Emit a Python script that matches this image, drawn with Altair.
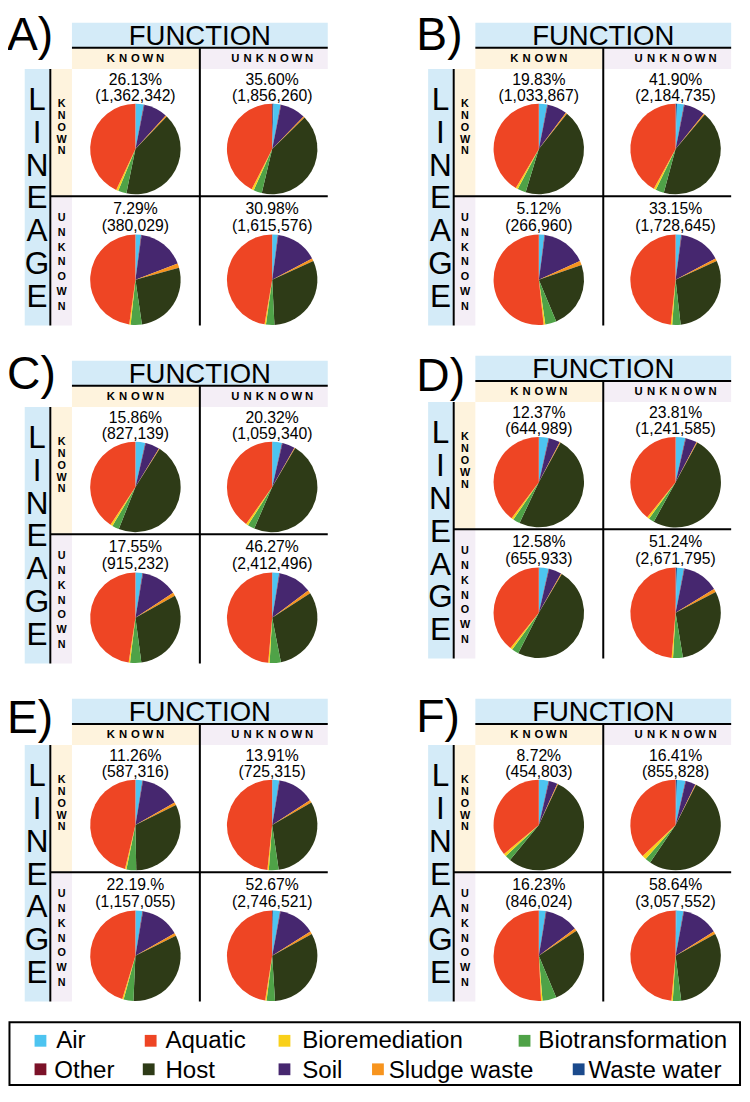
import math
import altair as alt
import pandas as pd

# ---------------- data ----------------
CATEGORIES = ["Waste water", "Air", "Other", "Soil", "Sludge waste", "Host",
              "Biotransformation", "Bioremediation", "Aquatic"]
COLORS = ["#1b4a8c", "#4dc4f0", "#7b1128", "#46276f", "#f7941e", "#2e3b17",
          "#4fa247", "#f9d01a", "#ee4524"]
LEGEND_ROW1 = ["Air", "Aquatic", "Bioremediation", "Biotransformation"]
LEGEND_ROW2 = ["Other", "Host", "Soil", "Sludge waste", "Waste water"]

PANEL_LABELS = ["A)", "B)", "C)", "D)", "E)", "F)"]
HEADER_TOP = "FUNCTION"
HEADER_SIDE = "LINEAGE"
SUB_LABELS = ["KNOWN", "UNKNOWN"]

# quadrant order: known/known, known/unknown, unknown/known, unknown/unknown
PCT_A = ["26.13%", "35.60%", "7.29%", "30.98%"]
PCT_B = ["19.83%", "41.90%", "5.12%", "33.15%"]
PCT_C = ["15.86%", "20.32%", "17.55%", "46.27%"]
PCT_D = ["12.37%", "23.81%", "12.58%", "51.24%"]
PCT_E = ["11.26%", "13.91%", "22.19.%", "52.67%"]
PCT_F = ["8.72%", "16.41%", "16.23%", "58.64%"]

COUNT_A = ["(1,362,342)", "(1,856,260)", "(380,029)", "(1,615,576)"]
COUNT_B = ["(1,033,867)", "(2,184,735)", "(266,960)", "(1,728,645)"]
COUNT_C = ["(827,139)", "(1,059,340)", "(915,232)", "(2,412,496)"]
COUNT_D = ["(644,989)", "(1,241,585)", "(655,933)", "(2,671,795)"]
COUNT_E = ["(587,316)", "(725,315)", "(1,157,055)", "(2,746,521)"]
COUNT_F = ["(454,803)", "(855,828)", "(846,024)", "(3,057,552)"]

# shares (%) in CATEGORIES order
PIES_A = [[0, 3, 0.2, 8.5, 0.5, 41, 3, 0.8, 43],
          [0.5, 2.5, 0.2, 9, 0.5, 41, 3, 0.8, 42.5],
          [0, 2, 0.2, 17, 1.5, 27, 4, 0.5, 47.8],
          [0, 2, 0.2, 15, 1, 31, 3, 0.5, 47.3]]
PIES_B = [[0, 3, 0.2, 7, 0.5, 44, 3, 0.8, 41.5],
          [0.5, 2.5, 0.2, 7.5, 0.5, 43, 3, 0.8, 42],
          [0, 2, 0.2, 16, 1.5, 24, 4, 0.6, 51.7],
          [0, 2, 0.2, 15, 1, 30, 3, 0.5, 48.3]]
PIES_C = [[0, 3.5, 0.2, 5, 0.3, 47, 2.5, 0.8, 40.7],
          [0, 3.5, 0.2, 4.5, 0.3, 48, 2.5, 0.8, 40.2],
          [0, 2.5, 0.2, 13, 1.2, 31, 4, 0.5, 47.6],
          [0, 2.5, 0.2, 12, 1.2, 31, 4, 0.5, 48.6]]
PIES_D = [[0, 3.5, 0.2, 4, 0.3, 49, 2.5, 0.8, 39.7],
          [0, 3.5, 0.2, 4, 0.3, 50, 2, 0.8, 39.2],
          [0, 3.5, 0.2, 4.5, 0.3, 49, 2.5, 0.8, 39.2],
          [0.5, 2.5, 0.2, 13, 1.2, 30, 3.5, 0.5, 48.6]]
PIES_E = [[0, 2.5, 0.2, 14, 1, 32, 3.5, 0.5, 46.3],
          [0, 2.5, 0.2, 13, 1, 31, 3.5, 0.5, 48.3],
          [0, 2.5, 0.2, 14, 1, 33, 3.5, 0.5, 45.3],
          [0.3, 2.5, 0.2, 13, 1, 32, 3, 0.5, 47.5]]
PIES_F = [[0, 3.5, 0.2, 3, 0.3, 54, 2, 1, 36],
          [0.5, 3, 0.2, 3.5, 0.3, 52, 2, 1.5, 37],
          [0, 2.5, 0.2, 12, 1, 28, 5, 0.5, 50.8],
          [0.3, 2.5, 0.2, 13, 1, 31, 3, 0.5, 48.5]]

PCTS = [PCT_A, PCT_B, PCT_C, PCT_D, PCT_E, PCT_F]
COUNTS = [COUNT_A, COUNT_B, COUNT_C, COUNT_D, COUNT_E, COUNT_F]
PIES = [PIES_A, PIES_B, PIES_C, PIES_D, PIES_E, PIES_F]

# ---------------- layout ----------------
W, H = 734, 1080
SX = 733 / 745.0
SY = 1078 / 1097.0
FS = (SX + SY) / 2
FONT = "Liberation Sans"

BLUE = "#d4ebf8"
CREAM = "#fef3dd"
LAV = "#f4eef6"


def X(r):
    return (r - 3) * SX


def Y(r):
    return (r - 3) * SY


PANEL_OFFSETS = [(0, 0), (410, 0), (0, 344), (410, 339), (0, 688), (410, 688)]
LETTER_POS = [(2, 46), (418, 46), (2, 391), (418, 393), (2, 741), (418, 740)]
COL_CX = [132.5, 271.5]
ROW_PIE_CY = [146.5, 279.5]
ROW_TXT1 = [81.5, 213.0]
ROW_TXT2 = [97.5, 229.5]
PIE_R = 46.0
LIN_LH = 33.5
ROWK_LH = 12.0
ROWU_LH = 15.0

rects = {BLUE: [], CREAM: [], LAV: []}
rules = []
txt_center = []
txt_bold = []
txt_left = []
txt_lineage = []
txt_rowk = []
txt_rowu = []
pie_rows = []


def add_rect(col, x1, x2, y1, y2, dx, dy):
    rects[col].append(dict(x=X(x1 + dx), x2=X(x2 + dx), y=Y(y1 + dy), y2=Y(y2 + dy)))


for p, (dx, dy) in enumerate(PANEL_OFFSETS):
    lx, lb = LETTER_POS[p]
    txt_left.append(dict(x=X(lx), y=Y(lb), text=PANEL_LABELS[p], size=47 * FS))
    # backgrounds
    add_rect(BLUE, 68, 328, 18, 43, dx, dy)
    add_rect(CREAM, 68, 197, 44, 65, dx, dy)
    add_rect(LAV, 199, 328, 44, 65, dx, dy)
    add_rect(BLUE, 20, 45, 65, 326, dx, dy)
    add_rect(CREAM, 47, 68, 65, 194, dx, dy)
    add_rect(LAV, 47, 68, 195, 326, dx, dy)
    # lines
    rules.append(dict(x=X(68 + dx), x2=X(328 + dx), y=Y(43.5 + dy), y2=Y(43.5 + dy)))
    rules.append(dict(x=X(198 + dx), x2=X(198 + dx), y=Y(43 + dy), y2=Y(326 + dy)))
    rules.append(dict(x=X(46 + dx), x2=X(46 + dx), y=Y(65 + dy), y2=Y(326 + dy)))
    rules.append(dict(x=X(46 + dx), x2=X(328 + dx), y=Y(194.5 + dy), y2=Y(194.5 + dy)))
    # headers
    txt_center.append(dict(x=X(198 + dx), y=Y(40.5 + dy), text=HEADER_TOP, size=28 * FS))
    txt_lineage.append(dict(x=X(32.5 + dx), y=Y(95 + 11.5 + dy),
                            text="\n".join(HEADER_SIDE), size=32 * FS))
    for c, word in enumerate(SUB_LABELS):
        n = len(word)
        for i, ch in enumerate(word):
            xx = COL_CX[c] + (i - (n - 1) / 2) * 12.5
            txt_bold.append(dict(x=X(xx + dx), y=Y(58.3 + dy), text=ch, size=11.5 * FS))
    txt_rowk.append(dict(x=X(57.5 + dx), y=Y(104 + dy),
                         text="\n".join(SUB_LABELS[0]), size=11 * FS))
    txt_rowu.append(dict(x=X(57.5 + dx), y=Y(220 + dy),
                         text="\n".join(SUB_LABELS[1]), size=11 * FS))
    # pies and their labels
    for q in range(4):
        r, c = divmod(q, 2)
        cx = X(COL_CX[c] + dx)
        cy = Y(ROW_PIE_CY[r] + dy)
        txt_center.append(dict(x=cx, y=Y(ROW_TXT1[r] + dy), text=PCTS[p][q], size=16 * FS))
        txt_center.append(dict(x=cx, y=Y(ROW_TXT2[r] + dy), text=COUNTS[p][q], size=16 * FS))
        for k, cat in enumerate(CATEGORIES):
            pie_rows.append(dict(pie=f"{p}-{q}", cx=cx, cy=cy, cat=cat, ord=k,
                                 val=PIES[p][q][k]))

# legend layout
LEG_SW1 = [30, 142, 278, 522]
LEG_TX1 = [52, 163, 302, 542]
LEG_SW2 = [30, 140, 278, 373, 577]
LEG_TX2 = [50, 163, 302, 390, 593]
LEG_ROW_CY = [1054, 1083]
LEG_ROW_BASE = [1061, 1092]
swatches = []
for row, (names, sw, tx) in enumerate([(LEGEND_ROW1, LEG_SW1, LEG_TX1),
                                        (LEGEND_ROW2, LEG_SW2, LEG_TX2)]):
    for name, s, t in zip(names, sw, tx):
        cyy = LEG_ROW_CY[row]
        swatches.append(dict(cat=name, x=X(s), x2=X(s + 12), y=Y(cyy - 6), y2=Y(cyy + 6)))
        txt_left.append(dict(x=X(t), y=Y(LEG_ROW_BASE[row]), text=name, size=24.5 * FS))
legend_box = [dict(x=X(4.5), x2=X(747), y=Y(1035), y2=Y(1099))]

# ---------------- chart ----------------
def pos(f):
    return alt.X(f + ":Q", scale=None, axis=None)


def posy(f):
    return alt.Y(f + ":Q", scale=None, axis=None)


cat_scale = alt.Scale(domain=CATEGORIES, range=COLORS)

layers = []
for col, rows in rects.items():
    layers.append(alt.Chart(pd.DataFrame(rows)).mark_rect(color=col).encode(
        x=pos("x"), x2="x2:Q", y=posy("y"), y2="y2:Q"))

layers.append(alt.Chart(pd.DataFrame(rules)).mark_rule(color="black", strokeWidth=2).encode(
    x=pos("x"), x2="x2:Q", y=posy("y"), y2="y2:Q"))

pies = alt.Chart(pd.DataFrame(pie_rows)).transform_stack(
    stack="val", as_=["t0", "t1"], groupby=["pie"], offset="normalize",
    sort=[alt.SortField("ord", order="ascending")]
).mark_arc(radius=PIE_R * FS).encode(
    x=pos("cx"), y=posy("cy"),
    theta=alt.Theta("t0:Q", scale=alt.Scale(domain=[0, 1], range=[0, 2 * math.pi])),
    theta2="t1:Q",
    fill=alt.Fill("cat:N", scale=cat_scale, legend=None),
)
layers.append(pies)

layers.append(alt.Chart(pd.DataFrame(swatches)).mark_rect().encode(
    x=pos("x"), x2="x2:Q", y=posy("y"), y2="y2:Q",
    fill=alt.Fill("cat:N", scale=cat_scale, legend=None)))

layers.append(alt.Chart(pd.DataFrame(legend_box)).mark_rect(
    filled=False, stroke="black", strokeWidth=2).encode(
    x=pos("x"), x2="x2:Q", y=posy("y"), y2="y2:Q"))


def text_layer(rows, align="center", bold=False, lh=None):
    kw = dict(align=align, baseline="alphabetic", font=FONT, color="black")
    if bold:
        kw["fontWeight"] = "bold"
    if lh is not None:
        kw["lineBreak"] = "\n"
        kw["lineHeight"] = lh
    return alt.Chart(pd.DataFrame(rows)).mark_text(**kw).encode(
        x=pos("x"), y=posy("y"), text="text:N",
        size=alt.Size("size:Q", scale=None, legend=None))


layers.append(text_layer(txt_center))
layers.append(text_layer(txt_bold, bold=True))
layers.append(text_layer(txt_left, align="left"))
layers.append(text_layer(txt_lineage, lh=LIN_LH * SY))
layers.append(text_layer(txt_rowk, bold=True, lh=ROWK_LH * SY))
layers.append(text_layer(txt_rowu, bold=True, lh=ROWU_LH * SY))

chart = alt.layer(*layers).properties(
    width=W, height=H, padding=0,
    autosize=alt.AutoSizeParams(type="none"),
).configure_view(stroke=None)

chart.save("out.html", embed_options={"renderer": "svg", "actions": False})
